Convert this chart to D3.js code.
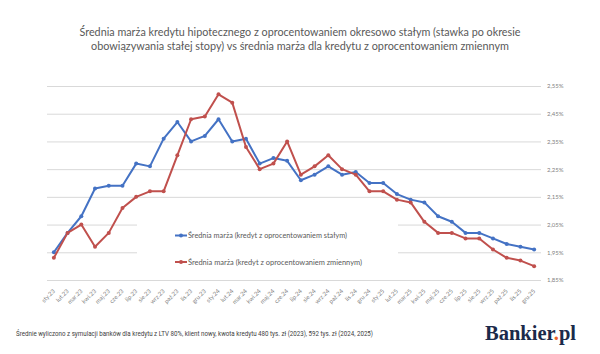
<!DOCTYPE html>
<html>
<head>
<meta charset="utf-8">
<script src="https://cdn.jsdelivr.net/npm/d3@7"></script>
<style>
  body { margin: 0; background: #fff; }
  svg { display: block; }
</style>
</head>
<body>
<div id="chart"></div>
<script>
// month labels on the x axis
var months = ['sty.23','lut.23','mar.23','kwi.23','maj.23','cze.23','lip.23','sie.23','wrz.23','paź.23','lis.23','gru.23',
              'sty.24','lut.24','mar.24','kwi.24','maj.24','cze.24','lip.24','sie.24','wrz.24','paź.24','lis.24','gru.24',
              'sty.25','lut.25','mar.25','kwi.25','maj.25','cze.25','lip.25','sie.25','wrz.25','paź.25','lis.25','gru.25'];

// average margin, fixed rate (%)
var fixedRate = [1.95, 2.02, 2.08, 2.18, 2.19, 2.19, 2.27, 2.26, 2.36, 2.42, 2.35, 2.37,
                 2.43, 2.35, 2.36, 2.27, 2.29, 2.28, 2.21, 2.23, 2.26, 2.23, 2.24, 2.20,
                 2.20, 2.16, 2.14, 2.13, 2.08, 2.06, 2.02, 2.02, 2.00, 1.98, 1.97, 1.96];

// average margin, variable rate (%)
var variableRate = [1.93, 2.02, 2.05, 1.97, 2.02, 2.11, 2.15, 2.17, 2.17, 2.30, 2.43, 2.44,
                    2.52, 2.49, 2.33, 2.25, 2.27, 2.35, 2.23, 2.26, 2.30, 2.25, 2.23, 2.17,
                    2.17, 2.14, 2.13, 2.06, 2.02, 2.02, 2.00, 2.00, 1.96, 1.93, 1.92, 1.90];

var yTicks = [1.85, 1.95, 2.05, 2.15, 2.25, 2.35, 2.45, 2.55];

var seriesNames = ['Średnia marża (kredyt z oprocentowaniem stałym)',
                   'Średnia marża (kredyt z oprocentowaniem zmiennym)'];
var colors = ['#4472C4', '#C0504D'];

var svgWidth = 600, svgHeight = 354;

var svg = d3.select('#chart').append('svg')
    .attr('width', svgWidth)
    .attr('height', svgHeight);

// title
var title = svg.append('text')
    .attr('text-anchor', 'middle')
    .attr('font-family', 'Lato, "Open Sans", sans-serif')
    .attr('font-size', '11px')
    .attr('fill', '#595959');
title.append('tspan').attr('x', 300).attr('y', 36)
    .attr('textLength', 441).attr('lengthAdjust', 'spacingAndGlyphs')
    .text('Średnia marża kredytu hipotecznego z oprocentowaniem okresowo stałym (stawka po okresie');
title.append('tspan').attr('x', 300).attr('y', 50)
    .attr('textLength', 418).attr('lengthAdjust', 'spacingAndGlyphs')
    .text('obowiązywania stałej stopy) vs średnia marża dla kredytu z oprocentowaniem zmiennym');

// scales
var x = d3.scaleBand().domain(months).range([47, 541]);
var y = d3.scaleLinear().domain([1.85, 2.55]).range([280, 86]);

// gridlines + right-side labels
var yAxis = d3.axisRight(y)
    .tickValues(yTicks)
    .tickSize(494)
    .tickFormat(d => d3.format('.2f')(d).replace('.', ',') + '%');

var yg = svg.append('g')
    .attr('transform', 'translate(47,0)')
    .call(yAxis);
yg.select('.domain').remove();
yg.selectAll('.tick line').attr('stroke', '#d9d9d9').attr('stroke-width', 1);
yg.selectAll('.tick text')
    .attr('x', 500)
    .attr('font-family', 'Lato, sans-serif')
    .attr('font-size', '6px')
    .attr('fill', '#7f7f7f');

// x axis labels
var xAxis = d3.axisBottom(x).tickSize(0);
var xg = svg.append('g')
    .attr('transform', 'translate(0,282)')
    .call(xAxis);
xg.select('.domain').remove();
xg.selectAll('.tick text')
    .attr('font-family', 'Lato, sans-serif')
    .attr('font-size', '6px')
    .attr('fill', '#7f7f7f')
    .attr('text-anchor', 'end')
    .attr('dy', '0.35em')
    .attr('transform', 'translate(-2,6) rotate(-45)');

// legend background hides the gridlines behind it
svg.append('rect')
    .attr('x', 137).attr('y', 212)
    .attr('width', 261).attr('height', 60)
    .attr('fill', '#fff');

// lines
var line = d3.line()
    .x((d, i) => x(months[i]) + x.bandwidth() / 2)
    .y(d => y(d));

[fixedRate, variableRate].forEach(function(data, k) {
    svg.append('path')
        .datum(data)
        .attr('d', line)
        .attr('fill', 'none')
        .attr('stroke', colors[k])
        .attr('stroke-width', 2)
        .attr('stroke-linejoin', 'round');

    svg.selectAll('.pt' + k)
        .data(data)
        .enter()
        .append('circle')
        .attr('cx', (d, i) => x(months[i]) + x.bandwidth() / 2)
        .attr('cy', d => y(d))
        .attr('r', 2)
        .attr('fill', colors[k]);
});

// legend
var legendY = [235.5, 262];
var legendLen = [159, 174];
seriesNames.forEach(function(name, k) {
    var lg = svg.append('g').attr('transform', `translate(175, ${legendY[k]})`);
    lg.append('line')
        .attr('x1', 0).attr('x2', 12)
        .attr('stroke', colors[k]).attr('stroke-width', 2);
    lg.append('circle').attr('cx', 6).attr('r', 2).attr('fill', colors[k]);
    lg.append('text')
        .attr('x', 13).attr('dy', '0.35em')
        .attr('font-family', 'Lato, sans-serif')
        .attr('font-size', '7.5px')
        .attr('fill', '#595959')
        .attr('textLength', legendLen[k]).attr('lengthAdjust', 'spacingAndGlyphs')
        .text(name);
});

// footer note
svg.append('text')
    .attr('x', 16).attr('y', 336)
    .attr('font-family', 'Roboto, sans-serif')
    .attr('font-size', '6.5px')
    .attr('fill', '#404040')
    .attr('textLength', 357).attr('lengthAdjust', 'spacingAndGlyphs')
    .text('Średnie wyliczono z symulacji banków dla kredytu z LTV 80%, klient nowy, kwota kredytu 480 tys. zł (2023), 592 tys. zł (2024, 2025)');

// logo
var logo = svg.append('text')
    .attr('x', 485).attr('y', 340)
    .attr('font-family', '"Liberation Serif", serif')
    .attr('font-weight', 'bold')
    .attr('font-size', '20.5px')
    .attr('fill', '#1b2a4a');
logo.append('tspan').text('Bankier');
logo.append('tspan').attr('fill', '#e8632b').text('.');
logo.append('tspan').text('pl');
</script>
</body>
</html>
